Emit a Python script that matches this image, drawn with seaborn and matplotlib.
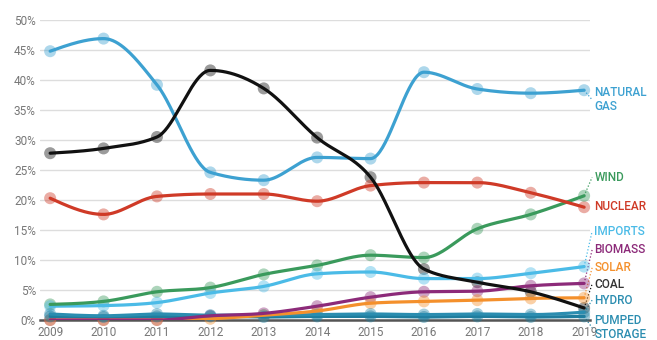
import matplotlib
matplotlib.use("Agg")
import matplotlib.pyplot as plt
import numpy as np
import pandas as pd
import seaborn as sns

years = [2009, 2010, 2011, 2012, 2013, 2014, 2015, 2016, 2017, 2018, 2019]

natural_gas = [44.8, 46.9, 39.2, 24.6, 23.3, 27.1, 26.9, 41.3, 38.5, 37.8, 38.3]
coal = [27.8, 28.6, 30.5, 41.6, 38.6, 30.4, 23.8, 8.5, 6.3, 4.7, 2.0]
nuclear = [20.3, 17.6, 20.6, 21.0, 21.0, 19.8, 22.4, 22.9, 22.9, 21.2, 18.8]
wind = [2.6, 3.1, 4.7, 5.4, 7.6, 9.1, 10.8, 10.4, 15.2, 17.6, 20.7]
imports = [2.3, 2.4, 2.9, 4.5, 5.6, 7.7, 8.0, 6.9, 6.9, 7.8, 8.9]
biomass = [0.0, 0.0, 0.0, 0.7, 1.1, 2.3, 3.8, 4.7, 4.8, 5.7, 6.1]
solar = [0.0, 0.0, 0.0, 0.2, 0.8, 1.5, 2.8, 3.1, 3.3, 3.6, 3.7]
hydro = [1.0, 0.7, 1.0, 0.8, 0.8, 0.9, 1.0, 0.9, 1.0, 0.9, 1.3]
pumped = [0.6, 0.5, 0.6, 0.6, 0.5, 0.6, 0.6, 0.5, 0.6, 0.5, 0.6]

series = {
    "NATURAL\nGAS": natural_gas,
    "COAL": coal,
    "NUCLEAR": nuclear,
    "WIND": wind,
    "IMPORTS": imports,
    "BIOMASS": biomass,
    "SOLAR": solar,
    "HYDRO": hydro,
    "PUMPED\nSTORAGE": pumped,
}
colors = {
    "NATURAL\nGAS": "#3da1d1",
    "COAL": "#111111",
    "NUCLEAR": "#cf3a27",
    "WIND": "#3a9a5c",
    "IMPORTS": "#4bbbe7",
    "BIOMASS": "#8c2a79",
    "SOLAR": "#f4902c",
    "HYDRO": "#2b8db0",
    "PUMPED\nSTORAGE": "#1f7d9e",
}
label_colors = dict(colors, COAL="#333333")
label_colors["PUMPED\nSTORAGE"] = "#2b8db0"
# where the right-hand labels sit (value axis)
label_y = {
    "NATURAL\nGAS": 36.7,
    "COAL": 6.0,
    "NUCLEAR": 19.0,
    "WIND": 23.8,
    "IMPORTS": 14.8,
    "BIOMASS": 11.7,
    "SOLAR": 8.7,
    "HYDRO": 3.3,
    "PUMPED\nSTORAGE": -1.3,
}


def monotone(x, y, n=40):
    # monotone cubic interpolation (like d3.curveMonotoneX)
    x = np.asarray(x, float)
    y = np.asarray(y, float)
    h = np.diff(x)
    s = np.diff(y) / h
    m = np.zeros_like(y)
    for i in range(1, len(y) - 1):
        p = (s[i - 1] * h[i] + s[i] * h[i - 1]) / (h[i - 1] + h[i])
        m[i] = (np.sign(s[i - 1]) + np.sign(s[i])) * min(
            abs(s[i - 1]), abs(s[i]), 0.5 * abs(p)
        )
    m[0] = (3 * s[0] - m[1]) / 2
    m[-1] = (3 * s[-1] - m[-2]) / 2
    xs, ys = [], []
    for i in range(len(x) - 1):
        t = np.linspace(0, 1, n, endpoint=(i == len(x) - 2))
        h00 = 2 * t**3 - 3 * t**2 + 1
        h10 = t**3 - 2 * t**2 + t
        h01 = -2 * t**3 + 3 * t**2
        h11 = t**3 - t**2
        xs.append(x[i] + t * h[i])
        ys.append(h00 * y[i] + h10 * h[i] * m[i] + h01 * y[i + 1] + h11 * h[i] * m[i + 1])
    return np.concatenate(xs), np.concatenate(ys)


pts = pd.DataFrame(
    [(k, yr, v) for k, vals in series.items() for yr, v in zip(years, vals)],
    columns=["source", "year", "share"],
)
curves = []
for k, vals in series.items():
    xs, ys = monotone(years, vals)
    curves.append(pd.DataFrame({"source": k, "year": xs, "share": ys}))
curves = pd.concat(curves)

sns.set_style("white")
plt.rcParams["font.family"] = ["Roboto", "DejaVu Sans"]

fig = plt.figure(figsize=(6.57, 3.40), dpi=100)
ax = fig.add_axes([40 / 657, 20 / 340, 550 / 657, 300 / 340])

sns.scatterplot(
    data=pts, x="year", y="share", hue="source", palette=colors,
    s=75, alpha=0.42, edgecolor="none", legend=False, ax=ax, clip_on=False, zorder=3,
)
order = list(series.keys())[::-1]
for k in order:
    sns.lineplot(
        data=curves[curves["source"] == k], x="year", y="share", color=colors[k],
        linewidth=2.3, ax=ax, legend=False, sort=False, estimator=None,
        zorder=5 if k == "COAL" else 4,
    )

ax.set_xlim(2008.81, 2019.11)
ax.set_ylim(0, 50)
ax.set_yticks(range(0, 51, 5))
ax.set_yticklabels([f"{v}%" for v in range(0, 51, 5)])
ax.set_xticks(years)
ax.set_xticklabels([str(y) for y in years])
ax.tick_params(axis="both", labelsize=8.5, colors="#777777", length=0, pad=3)
ax.tick_params(axis="x", pad=4)
ax.set_xlabel("")
ax.set_ylabel("")
ax.grid(axis="y", color="#dddddd", linewidth=1)
ax.grid(axis="x", visible=False)
for side in ["top", "right", "left"]:
    ax.spines[side].set_visible(False)
ax.spines["bottom"].set_color("#555555")
ax.spines["bottom"].set_linewidth(1.8)
ax.spines["bottom"].set_zorder(2)

for k, vals in series.items():
    ly = label_y[k]
    last = vals[-1]
    if abs(ly - last) > 1.0:
        ax.plot([2019, 2019.15], [last, ly], color=colors[k], linestyle=":",
                linewidth=0.9, clip_on=False)
    ax.text(2019.19, ly, k, color=label_colors[k], fontsize=8.5, va="center",
            ha="left", linespacing=1.1, fontweight="medium", clip_on=False)

fig.savefig("out.png", dpi=100)
